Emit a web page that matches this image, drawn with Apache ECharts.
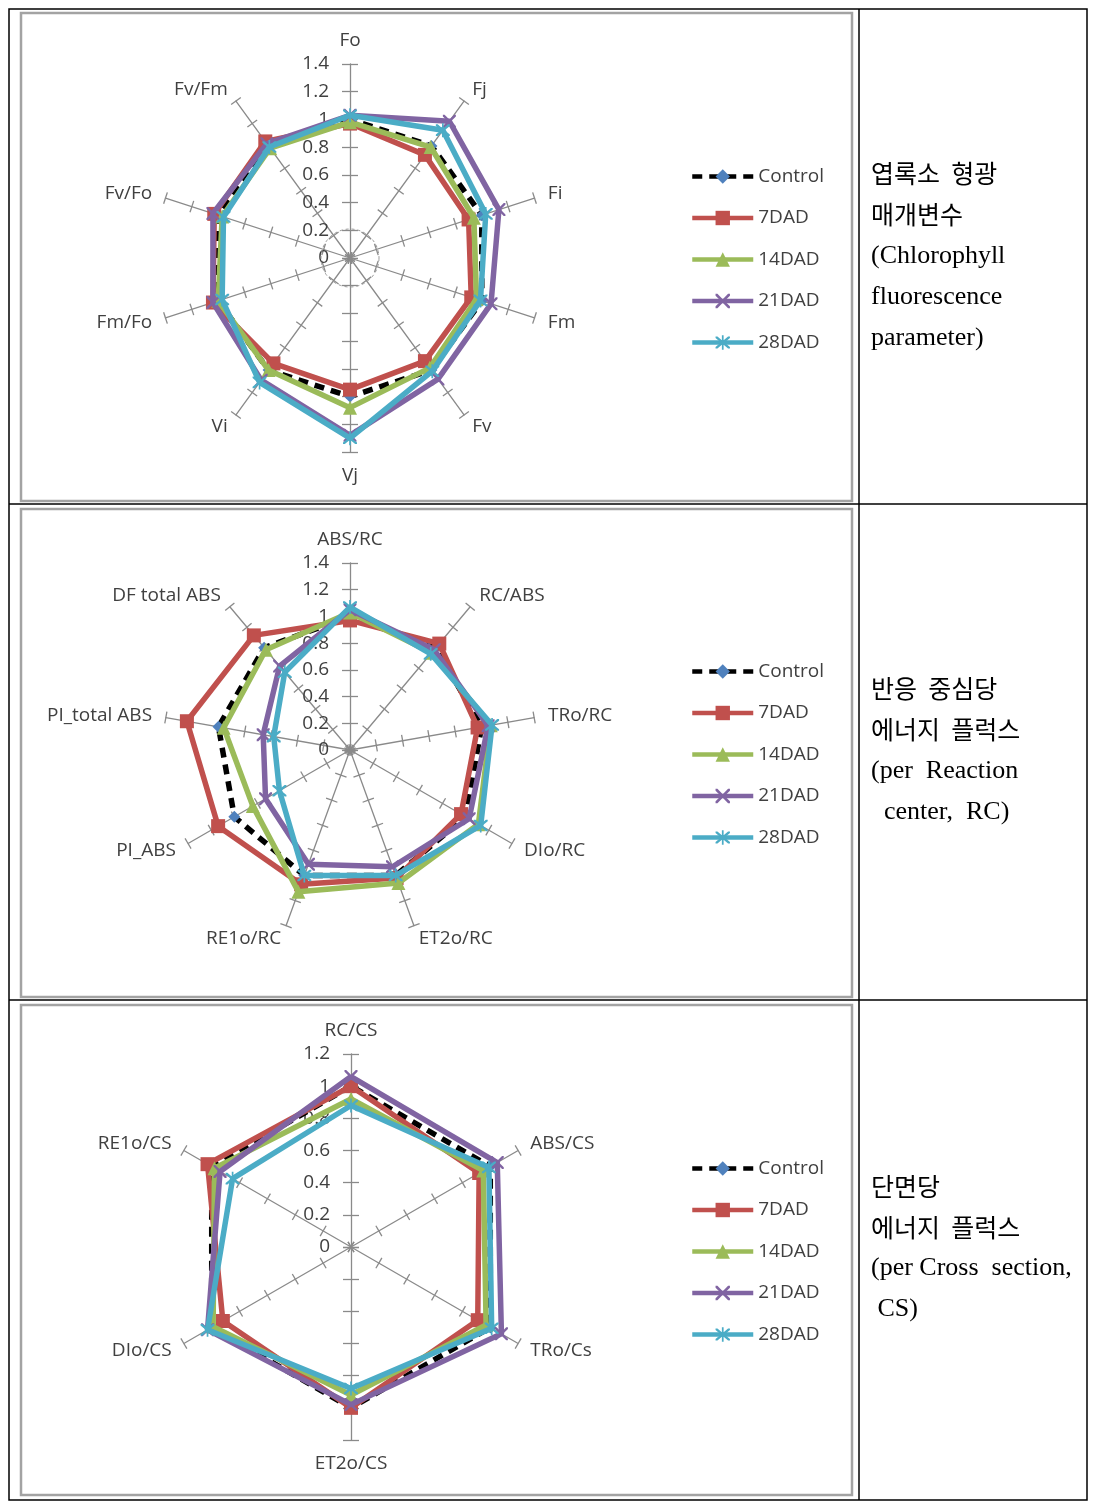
<!DOCTYPE html>
<html><head><meta charset="utf-8">
<script src="https://cdn.jsdelivr.net/npm/echarts@6/dist/echarts.min.js"></script>
<style>html,body{margin:0;padding:0;background:#fff}#c{width:1097px;height:1509px}</style>
</head><body><div id="c"></div>
<script>
// ---------- data ----------
const seriesNames = ['Control', '7DAD', '14DAD', '21DAD', '28DAD'];

const p1Axes = ['Fo', 'Fj', 'Fi', 'Fm', 'Fv', 'Vj', 'Vi', 'Fm/Fo', 'Fv/Fo', 'Fv/Fm'];
const p1Control = [1, 1, 1, 1, 1, 1, 1, 1, 1, 1];
const p1D7  = [0.97, 0.92, 0.90, 0.92, 0.92, 0.95, 0.94, 1.04, 1.03, 1.04];
const p1D14 = [0.98, 0.99, 0.94, 0.96, 0.98, 1.08, 1.00, 1.00, 0.97, 0.98];
const p1D21 = [1.03, 1.22, 1.13, 1.07, 1.08, 1.28, 1.09, 1.04, 1.04, 1.02];
const p1D28 = [1.03, 1.14, 1.03, 0.99, 1.01, 1.30, 1.11, 0.97, 0.96, 0.99];
const p1Max = 1.4;

const p2Axes = ['ABS/RC', 'RC/ABS', 'TRo/RC', 'DIo/RC', 'ET2o/RC', 'RE1o/RC', 'PI_ABS', 'PI_total ABS', 'DF total ABS'];
const p2Control = [1, 1, 1, 1, 1, 1, 1, 1, 1];
const p2D7  = [0.97, 1.04, 0.97, 0.96, 1.02, 1.07, 1.14, 1.24, 1.12];
const p2D14 = [1.03, 0.95, 1.07, 1.11, 1.06, 1.13, 0.84, 0.96, 0.98];
const p2D21 = [1.05, 0.98, 1.05, 1.03, 0.93, 0.91, 0.73, 0.66, 0.82];
const p2D28 = [1.07, 0.94, 1.08, 1.13, 1.00, 1.00, 0.61, 0.58, 0.76];
const p2Max = 1.4;

const p3Axes = ['RC/CS', 'ABS/CS', 'TRo/Cs', 'ET2o/CS', 'DIo/CS', 'RE1o/CS'];
const p3Control = [1, 1, 1, 1, 1, 1];
const p3D7  = [1.00, 0.92, 0.91, 1.00, 0.92, 1.03];
const p3D14 = [0.92, 0.95, 0.97, 0.92, 0.99, 0.98];
const p3D21 = [1.06, 1.05, 1.08, 0.98, 1.03, 0.94];
const p3D28 = [0.88, 0.99, 1.01, 0.88, 1.03, 0.85];
const p3Max = 1.2;

const valueStep = 0.2;

const p1Text = ['엽록소  형광', '매개변수', '(Chlorophyll', 'fluorescence', 'parameter)'];
const p2Text = ['반응  중심당', '에너지  플럭스', '(per  Reaction', '  center,  RC)'];
const p3Text = ['단면당', '에너지  플럭스', '(per Cross  section,', ' CS)'];

// ---------- styles ----------
const F = '"Open Sans", sans-serif';
const TXT = '#404040';
const AX = '#8a8a8a';
const XPATH = 'path://M0,0L1.3,0L5,3.7L8.7,0L10,0L10,1.3L6.3,5L10,8.7L10,10L8.7,10L5,6.3L1.3,10L0,10L0,8.7L3.7,5L0,1.3Z';
const STARPATH = 'path://M0,0L1.3,0L5,3.7L8.7,0L10,0L10,1.3L6.3,5L10,8.7L10,10L8.7,10L5,6.3L1.3,10L0,10L0,8.7L3.7,5L0,1.3ZM4.4,-1L5.6,-1L5.6,11L4.4,11Z';
const looks = [
  { color: '#000000', symColor: '#4f81bd', symbol: 'diamond', size: 12, type: [10, 7] },
  { color: '#c0504d', symColor: '#c0504d', symbol: 'rect', size: 14, type: 'solid' },
  { color: '#9bbb59', symColor: '#9bbb59', symbol: 'triangle', size: 14, type: 'solid' },
  { color: '#8064a2', symColor: '#8064a2', symbol: XPATH, size: 13, type: 'solid' },
  { color: '#4bacc6', symColor: '#4bacc6', symbol: STARPATH, size: 14, type: 'solid' }
];
const LW = 5.5;

// ECharts places radar indicators counter-clockwise; the chart runs clockwise.
function cw(arr) { return [arr[0]].concat(arr.slice(1).reverse()); }
function fmt(v) { return String(Math.round(v * 10) / 10); }

function radarPair(axes, max, cx, cy, r) {
  const n = axes.length;
  const names = cw(axes);
  const isVert = names.map((_, k) => { const j = k === 0 ? 0 : n - k; return j === 0 || j * 2 === n; });
  const common = {
    center: [cx, cy], radius: r, startAngle: 90, shape: 'polygon',
    splitNumber: Math.round(max / valueStep),
    splitLine: { show: false }, splitArea: { show: false }
  };
  const main = Object.assign({}, common, {
    indicator: names.map((nm, k) => ({
      name: nm, min: 0, max: max,
      axisTick: { length: isVert[k] ? 8 : 6 },
      axisLabel: { show: k === 0 }
    })),
    nameGap: 14,
    axisName: { color: TXT, fontSize: 19, fontFamily: F },
    axisLine: { lineStyle: { color: AX, width: 1.3 } },
    axisTick: { show: true, lineStyle: { color: AX, width: 1.3 } },
    axisLabel: { show: false, color: TXT, fontSize: 19, fontFamily: F, margin: 21, formatter: fmt }
  });
  // second, line-less copy that draws the other half of each crossing tick
  const inner = Object.assign({}, common, {
    indicator: names.map((nm, k) => ({
      name: nm, min: 0, max: max,
      axisTick: { length: isVert[k] ? -8 : -6 },
      axisLabel: { show: false }
    })),
    axisName: { show: false },
    axisLine: { show: false },
    axisTick: { show: true, lineStyle: { color: AX, width: 1.3 } },
    axisLabel: { show: false }
  });
  return [main, inner];
}

function radarSeries(radarIndex, sets) {
  return sets.map((vals, i) => {
    const ls = { color: looks[i].color, width: LW, type: looks[i].type };
    return {
      type: 'radar', name: seriesNames[i], radarIndex: radarIndex,
      symbol: looks[i].symbol, symbolSize: looks[i].size,
      lineStyle: ls,
      itemStyle: { color: looks[i].symColor },
      z: 3 + i,
      data: [{ value: cw(vals), name: seriesNames[i], lineStyle: ls }]
    };
  });
}

// legend representatives (line series give the line + marker legend icon)
const legendSeries = seriesNames.map((nm, i) => ({
  type: 'line', name: nm, xAxisIndex: 0, yAxisIndex: 0, data: [],
  symbol: looks[i].symbol, symbolSize: looks[i].size,
  lineStyle: { color: looks[i].color, width: 4.5, type: looks[i].type },
  itemStyle: { color: looks[i].symColor }
}));

function legendAt(top) {
  return {
    data: seriesNames, orient: 'vertical', left: 685, top: top,
    itemWidth: 61, itemHeight: 18, itemGap: 22.5,
    lineStyle: { width: 'inherit' },
    textStyle: { color: TXT, fontSize: 19, fontFamily: F, lineHeight: 18 }
  };
}

function textLines(lines, y0, step) {
  return lines.map((t, i) => ({
    type: 'text', left: 871, top: y0 + i * step - 15,
    style: {
      text: t, fill: '#000',
      font: /[가-힣]/.test(t) ? '25px "Noto Sans CJK KR"' : '26px "Liberation Serif"'
    }
  }));
}

const graphics = [
  { type: 'rect', shape: { x: 9, y: 9, width: 1078, height: 1491 }, style: { fill: 'none', stroke: '#000', lineWidth: 1.5 } },
  { type: 'line', shape: { x1: 859, y1: 9, x2: 859, y2: 1500 }, style: { stroke: '#000', lineWidth: 1.5 } },
  { type: 'line', shape: { x1: 9, y1: 504, x2: 1087, y2: 504 }, style: { stroke: '#000', lineWidth: 1.5 } },
  { type: 'line', shape: { x1: 9, y1: 1000, x2: 1087, y2: 1000 }, style: { stroke: '#000', lineWidth: 1.5 } },
  { type: 'rect', shape: { x: 21, y: 13, width: 831, height: 488 }, style: { fill: 'none', stroke: '#a3a3a3', lineWidth: 2.5 } },
  { type: 'rect', shape: { x: 21, y: 509, width: 831, height: 488 }, style: { fill: 'none', stroke: '#a3a3a3', lineWidth: 2.5 } },
  { type: 'rect', shape: { x: 21, y: 1005, width: 831, height: 490 }, style: { fill: 'none', stroke: '#a3a3a3', lineWidth: 2.5 } },
  { type: 'circle', shape: { cx: 350, cy: 258, r: 29 }, style: { fill: 'none', stroke: '#9a9a9a', lineWidth: 1, lineDash: [3, 3] }, z: 1 }
].concat(textLines(p1Text, 176, 41)).concat(textLines(p2Text, 691, 41)).concat(textLines(p3Text, 1189, 40.7));

const option = {
  backgroundColor: '#ffffff',
  animation: false,
  grid: { left: -200, top: -200, width: 10, height: 10, show: false },
  xAxis: { type: 'category', show: false, data: [] },
  yAxis: { type: 'value', show: false },
  radar: []
    .concat(radarPair(p1Axes, p1Max, 350, 258, 194))
    .concat(radarPair(p2Axes, p2Max, 350, 750, 187))
    .concat(radarPair(p3Axes, p3Max, 351, 1247, 193)),
  legend: [legendAt(162), legendAt(657), legendAt(1154)],
  graphic: graphics,
  series: legendSeries
    .concat(radarSeries(0, [p1Control, p1D7, p1D14, p1D21, p1D28]))
    .concat(radarSeries(2, [p2Control, p2D7, p2D14, p2D21, p2D28]))
    .concat(radarSeries(4, [p3Control, p3D7, p3D14, p3D21, p3D28]))
};

const chart = echarts.init(document.getElementById('c'), null, { renderer: 'canvas' });
chart.setOption(option);
</script>
</body></html>
